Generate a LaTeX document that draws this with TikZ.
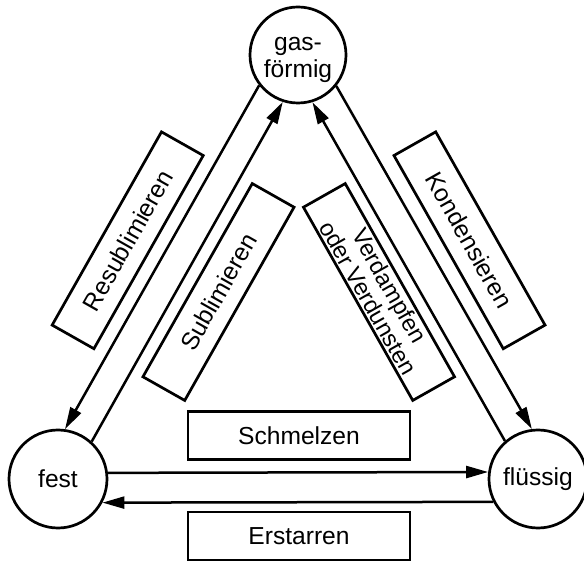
\documentclass[tikz,border=0pt]{standalone}
\usepackage{fontspec}
\setmainfont{Liberation Sans}
\usetikzlibrary{arrows.meta,calc}
\begin{document}
\begin{tikzpicture}[x=1pt,y=1pt,
  state/.style={draw, circle, line width=2.7pt, inner sep=0pt, font=\fontsize{24.6}{27.5}\selectfont, align=center},
  stext/.style={inner sep=0pt, font=\fontsize{24.6}{27.5}\selectfont, align=center},
  tbox/.style={draw, rectangle, line width=2.7pt, minimum width=222pt, minimum height=48pt, inner sep=0pt, font=\fontsize{24.6}{27}\selectfont, align=center},
  conn/.style={line width=2.5pt, -{Triangle[length=22pt,width=12pt]}},
]
\useasboundingbox (0,0) rectangle (584,563);
\node[state, minimum size=96pt] (G) at (298,508) {};
\node[stext] (Gt) at ([yshift=-5pt]G.center) {gas-\\förmig};
\node[state, minimum size=98pt] (F) at (58,84) {fest};
\node[state, minimum size=98pt] (L) at (538,84) {flüssig};

\draw[conn] (G.218.47) -- (F.82.04);
\draw[conn] (F.48.71) -- (G.252.51);
\draw[conn] (L.131.29) -- (G.287.49);
\draw[conn] (G.321.53) -- (L.97.96);
\draw[conn] (F.7.03) -- (L.172.97);
\draw[conn] (L.207.33) -- (F.332.67);

\node[tbox, rotate=60.5] (resub) at (127.7,322.7) {Resublimieren};
\node[tbox, rotate=60.5] (sub) at (218.5,271) {Sublimieren};
\node[tbox, rotate=-60.5, font=\fontsize{23.5}{24.5}\selectfont] (verd) at (379,271) {Verdampfen\\oder Verdunsten};
\node[tbox, rotate=-60.5] (kond) at (469.5,322.7) {Kondensieren};
\node[tbox] (schm) at (299,127.5) {Schmelzen};
\node[tbox] (erst) at (299,27) {Erstarren};
\end{tikzpicture}
\end{document}
